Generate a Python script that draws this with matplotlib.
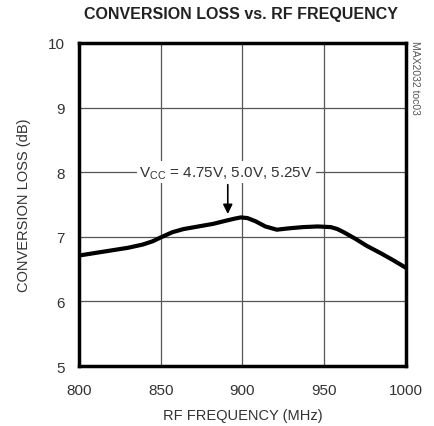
import matplotlib.pyplot as plt

# data
freq = [800, 815, 830, 839, 845, 850, 857, 864, 873, 882, 890, 895, 899, 903, 908, 914, 921, 928, 937, 946, 954, 958, 962, 969, 976, 985, 992, 1000]
loss = [6.71, 6.77, 6.83, 6.88, 6.93, 6.99, 7.07, 7.12, 7.16, 7.20, 7.25, 7.28, 7.30, 7.29, 7.24, 7.16, 7.11, 7.13, 7.15, 7.16, 7.15, 7.12, 7.07, 6.97, 6.86, 6.74, 6.64, 6.52]
xticks = [800, 850, 900, 950, 1000]
yticks = [5, 6, 7, 8, 9, 10]

plt.rcParams['font.family'] = ['Liberation Sans', 'DejaVu Sans']

fig = plt.figure(figsize=(4.35, 4.27), dpi=100)
ax = fig.add_axes([0.1816, 0.1405, 0.7517, 0.7565])

ax.plot(freq, loss, color='black', lw=3, solid_joinstyle='round', solid_capstyle='butt', zorder=3)

ax.set_xlim(800, 1000)
ax.set_ylim(5, 10)
ax.set_xticks(xticks)
ax.set_yticks(yticks)
ax.grid(True, color='#555555', lw=0.9)
ax.tick_params(axis='x', length=0, labelsize=11, colors='#333333', pad=12)
ax.tick_params(axis='y', length=0, labelsize=11, colors='#333333', pad=10)
for s in ax.spines.values():
    s.set_linewidth(2.5)
    s.set_color('black')

ax.set_xlabel('RF FREQUENCY (MHz)', fontsize=10.5, color='#333333', labelpad=8)
ax.set_ylabel('CONVERSION LOSS (dB)', fontsize=10.5, color='#333333', labelpad=12)
fig.text(0.555, 0.965, 'CONVERSION LOSS vs. RF FREQUENCY', ha='center', va='center',
         fontsize=11.5, fontweight='bold', color='#222222')
fig.text(0.954, 0.905, 'MAX2032 toc03', rotation=270, ha='center', va='top',
         fontsize=7.5, color='#555555')

ax.text(890, 8.0, r'V$_{\mathregular{CC}}$ = 4.75V, 5.0V, 5.25V', ha='center', va='center',
        fontsize=11, color='#333333', bbox=dict(facecolor='white', edgecolor='none', pad=2), zorder=4)
ax.annotate('', xy=(891, 7.31), xytext=(891, 7.85),
            arrowprops=dict(arrowstyle='-|>', color='black', lw=1.2, mutation_scale=14), zorder=4)

fig.savefig('out.png', dpi=100)
